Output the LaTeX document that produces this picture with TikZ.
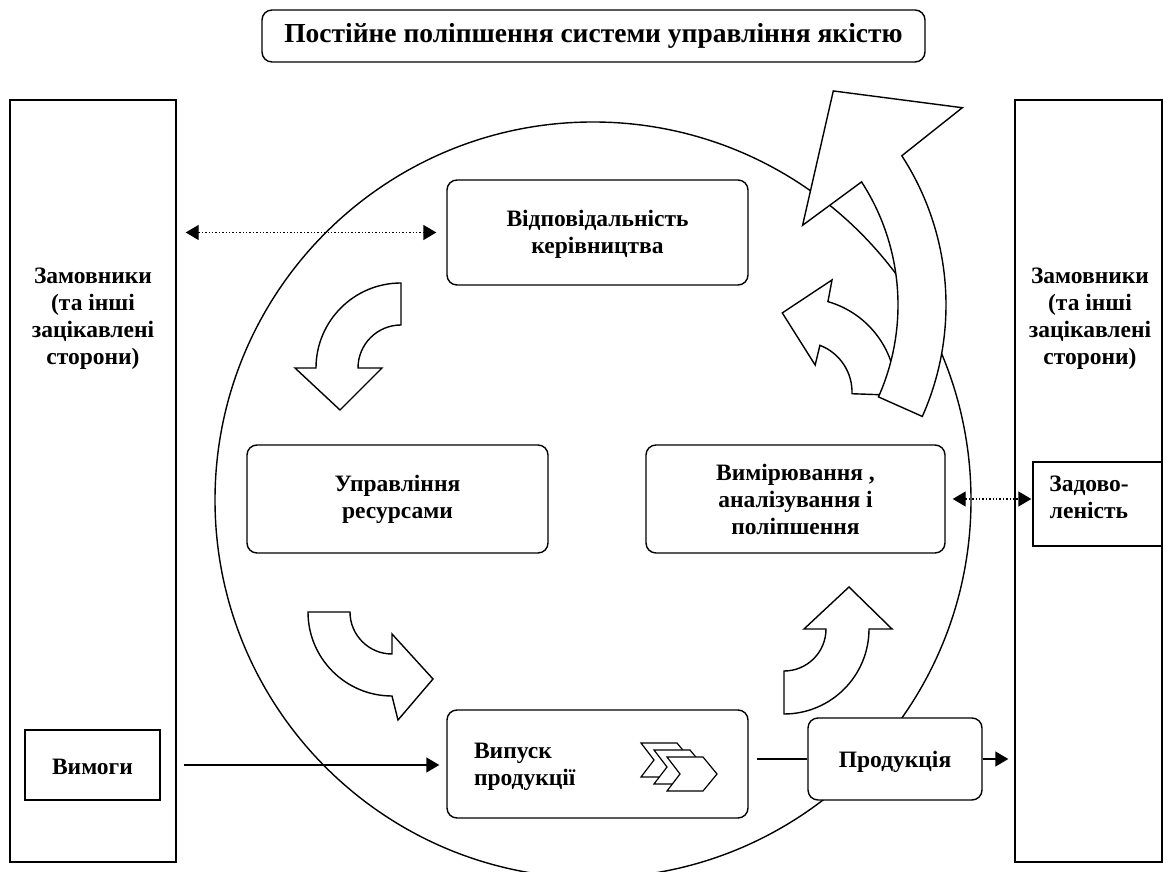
\documentclass[tikz,border=0pt]{standalone}
\usepackage{fontspec}
\setmainfont{Liberation Serif}
\usetikzlibrary{arrows.meta}

\begin{document}
\begin{tikzpicture}[
    x=1pt, y=1pt,
    line width=1.4pt,
    txt/.style={font=\fontsize{23.5}{27}\selectfont\bfseries, align=center},
    box/.style={draw, fill=white, rounded corners=10pt, txt},
    plainbox/.style={draw, fill=white, txt},
    blockarrow/.style={draw, fill=white, line join=miter},
    chevron/.style={draw, fill=white, line width=1.2pt},
    dotarrow/.style={dotted, {Triangle[length=13pt,width=15pt]}-{Triangle[length=13pt,width=15pt]}},
    solidarrow/.style={-{Triangle[length=13pt,width=15pt]}}
  ]
  \useasboundingbox (0,0) rectangle (1172,872);

  \node[box, minimum width=663pt, minimum height=52pt, font=\fontsize{27.5}{32}\selectfont\bfseries] (title) at (593.5,836)
    {Постійне поліпшення системи управління якістю};

  \node[plainbox, minimum width=166pt, minimum height=762pt] (lcust) at (93,391) {};
  \node[plainbox, minimum width=147pt, minimum height=762pt] (rcust) at (1088.5,391) {};
  \node[txt] (lcusttxt) at (93,553) {Замовники\\(та інші\\зацікавлені\\сторони)};
  \node[txt] (rcusttxt) at (1090,553) {Замовники\\(та інші\\зацікавлені\\сторони)};

  \draw (593,372) circle[radius=378];

  \node[plainbox, minimum width=135pt, minimum height=70pt] (req) at (92.5,107) {};
  \node[txt] (reqtxt) at (92.5,105) {Вимоги};
  \node[plainbox, minimum width=129pt, minimum height=84pt] (satisf) at (1097.5,368) {};
  \node[txt] (satisftxt) at (1089,375) {Задово-\\леність};

  \node[box, minimum width=301pt, minimum height=105pt] (resp) at (597.5,639.5) {};
  \node[txt] (resptxt) at (597.5,638) {Відповідальність\\керівництва};
  \node[box, minimum width=301pt, minimum height=108pt] (res) at (397.5,373) {Управління\\ресурсами};
  \node[box, minimum width=299pt, minimum height=108pt] (meas) at (795.5,373) {Вимірювання ,\\аналізування і\\поліпшення};
  \node[box, minimum width=301pt, minimum height=108pt] (release) at (597.5,108) {};
  \node[txt, align=left, anchor=west] (releasetxt) at (470,105) {Випуск\\продукції};
  \node[box, minimum width=174pt, minimum height=82pt] (product) at (895,113) {};
  \node[txt] (producttxt) at (895,110) {Продукція};

  \foreach \k in {2,1,0}
    \draw[chevron, shift={(-13*\k,7*\k)}] (667,115) -- (703,115) -- (717,98) -- (703,81) -- (667,81) -- (680,98) -- cycle;

  \draw[blockarrow, shift={(401,504)}] (90:43) arc[start angle=90, end angle=180, radius=43]
    -- (-19,0) -- (-61,-42) -- (-106,0) -- (180:85) arc[start angle=180, end angle=90, radius=85] -- cycle;
  \draw[blockarrow, shift={(392,260)}] (180:42) arc[start angle=180, end angle=270, radius=42]
    -- (0,-22) -- (41,-67) -- (6,-108) -- (270:84) arc[start angle=270, end angle=180, radius=84] -- cycle;
  \draw[blockarrow, shift={(784,243)}] (270:42) arc[start angle=270, end angle=360, radius=42]
    -- (20,0) -- (65,42) -- (108,0) -- (0:85) arc[start angle=0, end angle=-90, radius=85] -- cycle;
  \draw[blockarrow, shift={(802,480)}] (-2:50) arc[start angle=-2, end angle=69, radius=50]
    -- (64:30) -- (104:81.5) -- (75:116) -- (74:94) arc[start angle=74, end angle=-2, radius=94] -- cycle;
  \draw[blockarrow, shift={(672,567)}] (-24:226) arc[start angle=-24, end angle=33, radius=226]
    -- (31.4:153) -- (53:268) -- (34.2:351) -- (33:274) arc[start angle=33, end angle=-24, radius=274] -- cycle;

  \draw[dotarrow, shorten <=9pt, shorten >=10pt] (lcust.east |- resp.west) -- (resp.west);
  \draw[dotarrow, shorten <=7pt, shorten >=1pt] (meas.east) -- (meas.east -| satisf.west);
  \draw[solidarrow, shorten <=23pt, shorten >=7pt] (req.east) -- (req.east -| release.west);
  \draw[shorten <=8pt] (product.west -| release.east) -- (product.west);
  \draw[solidarrow, shorten >=6pt] (product.east) -- (product.east -| rcust.west);
\end{tikzpicture}
\end{document}
